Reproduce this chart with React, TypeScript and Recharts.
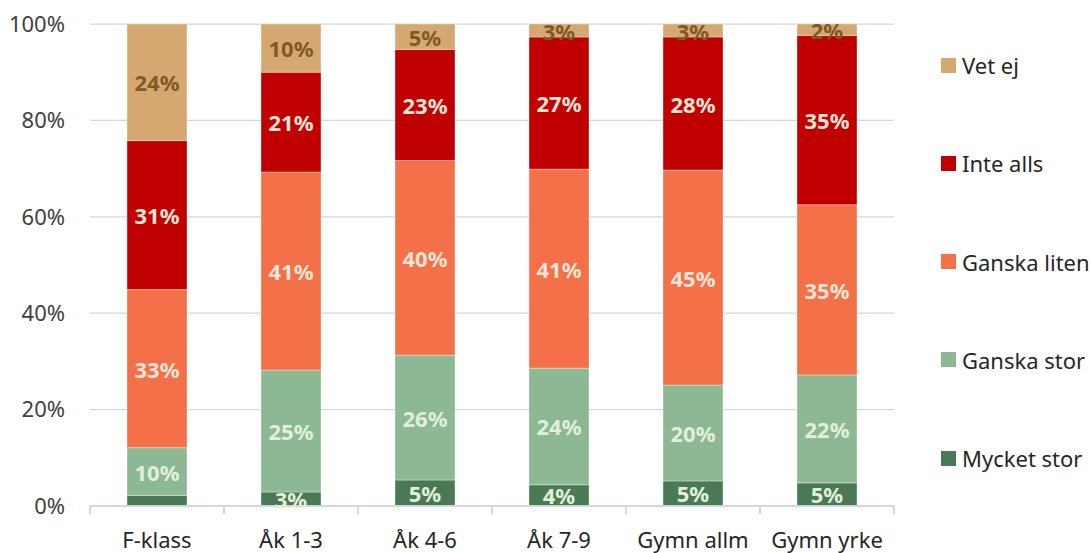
import { BarChart, Bar, XAxis, YAxis, CartesianGrid, LabelList } from "recharts";

const categories = ["F-klass", "Åk 1-3", "Åk 4-6", "Åk 7-9", "Gymn allm", "Gymn yrke"];

// andel i procent per kategori (nedifrån och upp i stapeln)
const mycketStor = [2.2, 2.9, 5.4, 4.4, 5.2, 4.8];
const ganskaStor = [9.9, 25.3, 25.9, 24.2, 19.9, 22.4];
const ganskaLiten = [32.8, 41.1, 40.4, 41.3, 44.6, 35.3];
const inteAlls = [30.9, 20.7, 23.0, 27.4, 27.6, 35.1];
const vetEj = [24.2, 10.0, 5.3, 2.7, 2.7, 2.4];

const yTicks = [0, 0.2, 0.4, 0.6, 0.8, 1];

const series = [
  { key: "mycketStor", name: "Mycket stor", values: mycketStor, color: "#4A7A55", labelColor: "#E2EFDA" },
  { key: "ganskaStor", name: "Ganska stor", values: ganskaStor, color: "#8DB894", labelColor: "#E2EFDA" },
  { key: "ganskaLiten", name: "Ganska liten", values: ganskaLiten, color: "#F47048", labelColor: "#FCE4D6" },
  { key: "inteAlls", name: "Inte alls", values: inteAlls, color: "#C00000", labelColor: "#FCE4D6" },
  { key: "vetEj", name: "Vet ej", values: vetEj, color: "#D4A870", labelColor: "#7F5A26" },
];

const data = categories.map((name, i) => {
  const row: Record<string, string | number> = { name };
  series.forEach((s) => (row[s.key] = s.values[i]));
  return row;
});

const FONT = '"Segoe UI", "Noto Sans", sans-serif';
const AXIS = "#D0D8D8";
const PLOT_LEFT = 90;
const PLOT_RIGHT = 894;
const HALF_BAND = (PLOT_RIGHT - PLOT_LEFT) / categories.length / 2;

const CategoryTick = (props: any) => {
  const { x, y, payload, index } = props;
  return (
    <g>
      <line x1={x - HALF_BAND} x2={x - HALF_BAND} y1={y} y2={y + 8} stroke={AXIS} strokeWidth={2} />
      {index === categories.length - 1 && (
        <line x1={x + HALF_BAND} x2={x + HALF_BAND} y1={y} y2={y + 8} stroke={AXIS} strokeWidth={2} />
      )}
      <text x={x} y={y + 33} textAnchor="middle" dominantBaseline="central" fill="#262626" fontSize={22} fontFamily={FONT}>
        {payload.value}
      </text>
    </g>
  );
};

const makeLabel = (color: string) => (props: any) => {
  const { x, y, width, height, value } = props;
  if (value == null || value < 2.3) return null;
  return (
    <text
      x={x + width / 2}
      y={y + height / 2}
      textAnchor="middle"
      dominantBaseline="central"
      fill={color}
      fontSize={22}
      fontWeight={700}
      fontFamily={FONT}
    >
      {Math.round(value)}%
    </text>
  );
};

export default function App() {
  return (
    <div style={{ position: "absolute", left: 0, top: 0, width: 1091, height: 553, background: "#fff" }}>
      <BarChart
        width={1091}
        height={553}
        data={data}
        stackOffset="expand"
        barSize={60}
        margin={{ top: 24, right: 1091 - PLOT_RIGHT, left: 0, bottom: 0 }}
      >
        <CartesianGrid vertical={false} stroke={AXIS} strokeWidth={1.25} />
        <XAxis
          dataKey="name"
          height={47}
          axisLine={{ stroke: AXIS, strokeWidth: 2 }}
          tickLine={false}
          tickSize={0}
          tickMargin={0}
          tick={<CategoryTick />}
          interval={0}
        />
        <YAxis
          width={PLOT_LEFT}
          domain={[0, 1]}
          ticks={yTicks}
          tickFormatter={(v: number) => `${Math.round(v * 100)}%`}
          axisLine={false}
          tickLine={false}
          tickSize={0}
          tickMargin={25}
          tick={{ fill: "#404040", fontSize: 22, fontFamily: FONT }}
        />
        {series.map((s) => (
          <Bar
            key={s.key}
            dataKey={s.key}
            name={s.name}
            stackId="a"
            fill={s.color}
            stroke="#ffffff"
            strokeOpacity={0.35}
            strokeWidth={1}
            isAnimationActive={false}
          >
            <LabelList dataKey={s.key} content={makeLabel(s.labelColor)} />
          </Bar>
        ))}
      </BarChart>
      <div style={{ position: "absolute", left: 941, top: 16, fontFamily: FONT }}>
        {[...series].reverse().map((s) => (
          <div key={s.key} style={{ height: 98.25, display: "flex", alignItems: "center" }}>
            <span style={{ width: 15, height: 15, background: s.color, display: "inline-block", marginRight: 6 }} />
            <span style={{ fontSize: 22, color: "#262626" }}>{s.name}</span>
          </div>
        ))}
      </div>
    </div>
  );
}
